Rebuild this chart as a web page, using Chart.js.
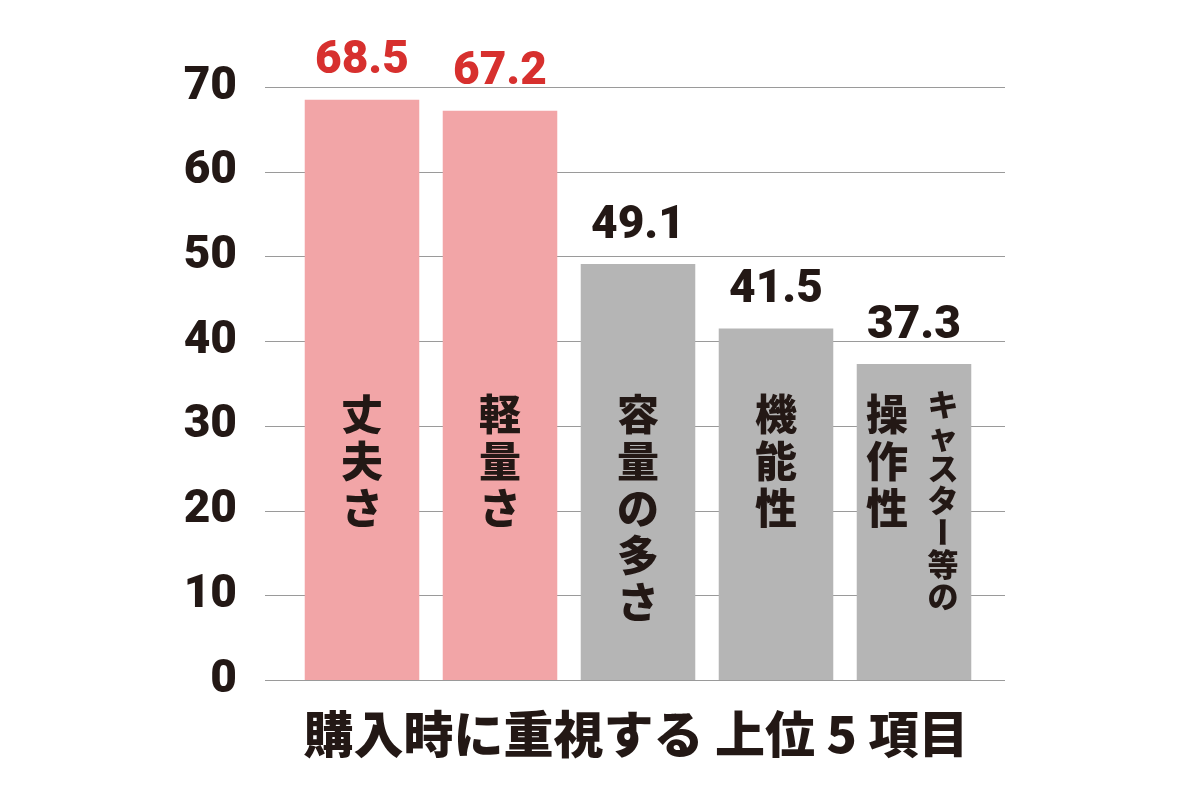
<!DOCTYPE html>
<html><head><meta charset="utf-8">
<script src="https://cdn.jsdelivr.net/npm/chart.js@4"></script>
<style>html,body{margin:0;background:#fff}#w{width:1200px;height:800px}</style>
</head><body><div id="w"><canvas id="c"></canvas></div>
<script>
const categories = ["丈夫さ","軽量さ","容量の多さ","機能性","操作性"];
const subLabels = ["","","","","キャスター等の"];
const values = [68.5,67.2,49.1,41.5,37.3];
const barColors = ["#f2a5a7","#f2a5a7","#b5b5b5","#b5b5b5","#b5b5b5"];
const valueColors = ["#d7302e","#d7302e","#231815","#231815","#231815"];
const yTicks = [0,10,20,30,40,50,60,70];
const titleText = "購入時に重視する 上位 5 項目";
const JP = '"Noto Sans CJK JP", sans-serif';

function vtext(ctx, s, x, y, size, step){
  ctx.font = `900 ${size}px ${JP}`;
  ctx.textAlign='center'; ctx.textBaseline='middle';
  for (const ch of s){
    if (ch==='ー'){ ctx.save(); ctx.translate(x,y); ctx.rotate(Math.PI/2); ctx.fillText(ch,0,0); ctx.restore(); }
    else ctx.fillText(ch,x,y);
    y += step;
  }
}
const deco = {
  id:'deco',
  beforeDatasetsDraw(chart){
    const {ctx, chartArea:a, scales:{y}} = chart;
    ctx.save(); ctx.strokeStyle='#9a9a9a'; ctx.lineWidth=1.2;
    yTicks.forEach(t=>{const py=Math.round(y.getPixelForValue(t))+0.5;
      ctx.beginPath(); ctx.moveTo(a.left-28,py); ctx.lineTo(a.right+22,py); ctx.stroke();});
    ctx.restore();
  },
  afterDatasetsDraw(chart){
    const {ctx} = chart; const meta = chart.getDatasetMeta(0);
    ctx.save();
    meta.data.forEach((b,i)=>{
      ctx.fillStyle = valueColors[i];
      ctx.font = `900 46px Roboto, sans-serif`;
      ctx.textAlign='center'; ctx.textBaseline='middle';
      ctx.fillText(values[i].toFixed(1), b.x, b.y-38);
      ctx.fillStyle='#231815';
      if (subLabels[i]){
        vtext(ctx, categories[i], b.x-27, 414, 42, 47);
        vtext(ctx, subLabels[i], b.x+29, 404, 31, 32);
      } else vtext(ctx, categories[i], b.x, 414, 42, 47);
    });
    ctx.fillStyle='#231815';
    ctx.font = `900 50px ${JP}`; ctx.textAlign='center'; ctx.textBaseline='middle';
    ctx.fillText(titleText, 636, 734);
    ctx.restore();
  }
};
new Chart(document.getElementById('c'), {
  type:'bar',
  data:{labels:categories, datasets:[{data:values, backgroundColor:barColors, barPercentage:0.83, categoryPercentage:1}]},
  options:{
    responsive:true, maintainAspectRatio:false, animation:false,
    layout:{padding:{top:87,right:217,bottom:120,left:0}},
    plugins:{legend:{display:false},tooltip:{enabled:false}},
    scales:{
      x:{display:false},
      y:{min:0,max:70,afterFit(s){s.width=293;},
        afterBuildTicks(s){s.ticks=yTicks.map(v=>({value:v}));},
        grid:{display:false}, border:{display:false},
        ticks:{padding:48,color:'#231815',font:{family:'Roboto',weight:'900',size:46}}}
    }
  },
  plugins:[deco]
});
</script></body></html>
